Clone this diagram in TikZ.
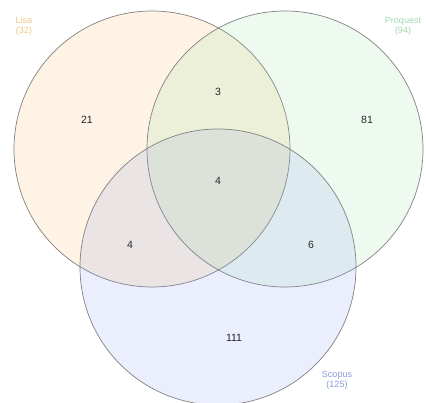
\documentclass[tikz,border=0pt]{standalone}
\usepackage{fontspec}
\setmainfont{Liberation Sans}
\usepackage{xcolor}
\usetikzlibrary{positioning}
\definecolor{cLisa}{RGB}{250,180,80}
\definecolor{cProq}{RGB}{130,220,140}
\definecolor{cScop}{RGB}{125,145,235}
\definecolor{cLisaTxt}{RGB}{240,200,140}
\definecolor{cProqTxt}{RGB}{165,215,175}
\definecolor{cScopTxt}{RGB}{140,155,215}
\definecolor{cRing}{RGB}{130,130,130}
\tikzset{
	vset/.style={circle, draw=cRing, line width=0.7pt, minimum size=276pt,
		inner sep=0pt, fill opacity=0.15},
	vnum/.style={font=\fontsize{10.5}{12}\selectfont, text=black!85},
	vlab/.style={font=\fontsize{9}{10}\selectfont, align=center, inner sep=0pt},
}
\begin{document}
\begin{tikzpicture}[x=1pt, y=-1pt]
			\useasboundingbox (0,0) rectangle (426,403);
			\fill[white] (0,0) rectangle (426,403);
			\node[vset, fill=cLisa] (lisa) at (152,149) {};
			\node[vset, fill=cProq, fill opacity=0.13] (proq) at (285,149) {};
			\node[vset, fill=cScop, fill opacity=0.15] (scop) at (218,267) {};
			% region counts
			\node[vnum] (onlyL) at (87,120) {21};
			\node[vnum] (lp) at (218,92) {3};
			\node[vnum] (onlyP) at (367,120) {81};
			\node[vnum] (lps) at (218,181) {4};
			\node[vnum] (ls) at (130,245) {4};
			\node[vnum] (ps) at (311,245) {6};
			\node[vnum] (onlyS) at (234,338) {111};
			% set names
			\node[vlab, text=cLisaTxt] (nameL) at (24,26) {Lisa\\(32)};
			\node[vlab, text=cProqTxt] (nameP) at (403,26) {Proquest\\(94)};
			\node[vlab, text=cScopTxt] (nameS) at (337,380) {Scopus\\(125)};
		\end{tikzpicture}
\end{document}
